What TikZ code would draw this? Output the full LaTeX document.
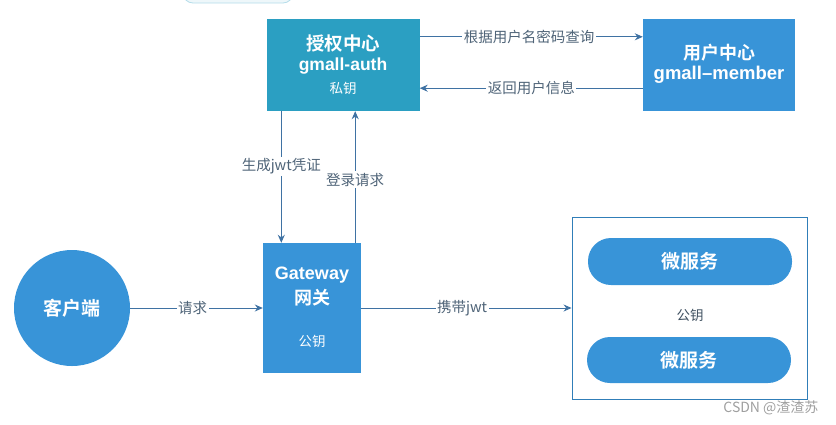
\documentclass[tikz,border=0pt]{standalone}
\usepackage{fontspec}
\setmainfont{Liberation Sans}
\newfontfamily\cjk{Noto Sans CJK SC}
\newfontfamily\cjkb{Noto Sans CJK SC Bold}
\usetikzlibrary{arrows.meta,calc}
\definecolor{authc}{HTML}{2B9FC2}
\definecolor{bluec}{HTML}{3894D8}
\definecolor{arrc}{HTML}{3F72A3}
\definecolor{labc}{HTML}{4F6478}
\begin{document}
\begin{tikzpicture}[x=1pt,y=-1pt,
  box/.style={draw=none,inner sep=0pt,text=white,align=center},
  arr/.style={draw=arrc,line width=1pt,-{Stealth[length=8pt,width=7pt]}},
  lab/.style={fill=white,inner sep=1.5pt,text=labc,font=\cjk\fontsize{14.5}{16}\selectfont},
  pill/.style={box,fill=bluec,rounded corners=23pt,minimum width=204pt,minimum height=47pt,font=\cjkb\fontsize{19}{22}\selectfont}]
\useasboundingbox (0,0) rectangle (836,424);
\begin{scope}
\clip (0,0) rectangle (836,424);
\draw[draw=authc!35,fill=authc!8,rounded corners=10pt,line width=0.8pt] (183,-30) rectangle (293,3);
\end{scope}
% boxes
\node[box,fill=authc,minimum width=153pt,minimum height=92pt] (auth) at (343,65) {};
\node[text=white,font=\cjkb\fontsize{18.5}{20}\selectfont] (authA) at (343,44) {授权中心};
\node[text=white,font=\bfseries\fontsize{17.5}{20}\selectfont] (authB) at (343,66) {gmall-auth};
\node[text=white,font=\cjk\fontsize{13.5}{15}\selectfont] (authC) at (343,88) {私钥};
\node[box,fill=bluec,minimum width=152pt,minimum height=92pt] (member) at (719,65) {};
\node[text=white,font=\cjkb\fontsize{18}{20}\selectfont] (memA) at (719,53) {用户中心};
\node[text=white,font=\bfseries\fontsize{18.5}{20}\selectfont] (memB) at (719,75) {gmall–member};
\node[box,fill=bluec,minimum width=98pt,minimum height=130pt] (gw) at (312,308) {};
\node[text=white,font=\bfseries\fontsize{18}{20}\selectfont] (gwA) at (312,275) {Gateway};
\node[text=white,font=\cjkb\fontsize{18}{20}\selectfont] (gwB) at (312,298) {网关};
\node[text=white,font=\cjk\fontsize{13.5}{15}\selectfont] (gwC) at (312,341) {公钥};
\node[box,circle,fill=bluec,minimum size=116pt,font=\cjkb\fontsize{19}{22}\selectfont] (client) at (72,308) {客户端};
\node[draw=bluec!85!black,line width=0.9pt,minimum width=235pt,minimum height=182pt,inner sep=0pt] (cont) at (689.5,308) {};
\node[pill] (ms1) at (690,261.5) {微服务};
\node[pill,minimum height=46pt] (ms2) at (689,360) {微服务};
\node[text=labc!80!black,font=\cjk\fontsize{13.5}{15}\selectfont] (pk) at (690,315) {公钥};
\node[text=gray!75,font=\cjk\fontsize{14}{16}\selectfont,anchor=east] (csdn) at (822,408) {CSDN @渣渣苏};
% connectors
\draw[arr] ([yshift=-18pt]auth.north east) -- node[lab,pos=0.49]{根据用户名密码查询} ([yshift=-18pt]auth.north east -| member.west);
\draw[arr] ([yshift=23pt]member.south west) -- node[lab,pos=0.5]{返回用户信息} ([yshift=23pt]member.south west -| auth.east);
\draw[arr] ([xshift=15pt]auth.south west) -- node[lab,pos=0.42]{生成jwt凭证} ([xshift=15pt]auth.south west |- gw.north);
\draw[arr] ([xshift=-6pt]gw.north east) -- node[lab,pos=0.48]{登录请求} ([xshift=-6pt]gw.north east |- auth.south);
\draw[arr] (client.east) -- node[lab,pos=0.47]{请求} (gw.west);
\draw[arr] (gw.east) -- node[lab,pos=0.48]{携带jwt} (cont.west);
\end{tikzpicture}
\end{document}
